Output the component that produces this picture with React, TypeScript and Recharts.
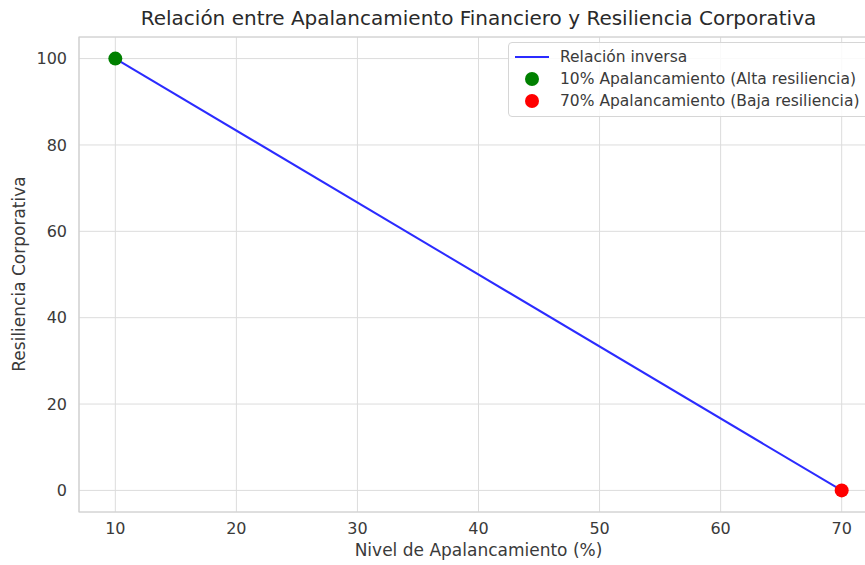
import React from 'react';
import {
  ComposedChart, Line, Scatter, XAxis, YAxis, CartesianGrid, ReferenceArea,
} from 'recharts';

const lineX = [10, 70];
const lineY = [100, 0];
const highPoint = [{ x: 10, y: 100 }];
const lowPoint = [{ x: 70, y: 0 }];
const xTicks = [10, 20, 30, 40, 50, 60, 70];
const yTicks = [0, 20, 40, 60, 80, 100];
const xDomain = [7, 73];
const yDomain = [-5, 105];

const title = 'Relación entre Apalancamiento Financiero y Resiliencia Corporativa';
const xLabel = 'Nivel de Apalancamiento (%)';
const yLabel = 'Resiliencia Corporativa';
const legendItems = [
  { label: 'Relación inversa', type: 'line', color: '#2b2bff' },
  { label: '10% Apalancamiento (Alta resiliencia)', type: 'dot', color: '#008000' },
  { label: '70% Apalancamiento (Baja resiliencia)', type: 'dot', color: '#ff0000' },
];

const lineData = lineX.map((x, i) => ({ x, y: lineY[i] }));

const FONT = '"DejaVu Sans", sans-serif';
const TEXT = '#3a3a3a';

const LegendBox = () => (
  <div
    style={{
      position: 'absolute', left: 508, top: 42,
      background: 'rgba(255,255,255,0.85)',
      border: '1px solid #d6d6d6',
      borderRadius: 4,
      padding: '3px 10px 4px 5px',
      fontFamily: FONT,
      fontSize: 15.5,
      color: TEXT,
      whiteSpace: 'nowrap',
    }}
  >
    {legendItems.map((it) => (
      <div key={it.label} style={{ display: 'flex', alignItems: 'center', height: 22 }}>
        <svg width={36} height={16} style={{ marginRight: 10 }}>
          {it.type === 'line' ? (
            <line x1={1} y1={8} x2={35} y2={8} stroke={it.color} strokeWidth={2} />
          ) : (
            <circle cx={18} cy={8} r={7} fill={it.color} />
          )}
        </svg>
        <span>{it.label}</span>
      </div>
    ))}
  </div>
);

export default function App() {
  return (
    <div
      style={{
        position: 'fixed', left: 0, top: 0, width: 865, height: 565,
        overflow: 'hidden', background: '#fff', fontFamily: FONT,
      }}
    >
      <div style={{ position: 'absolute', left: 0, top: 0 }}>
        <ComposedChart
          width={900}
          height={565}
          margin={{ top: 37, right: 22, bottom: 0, left: 0 }}
        >
          <CartesianGrid stroke="#dcdcdc" strokeWidth={1} />
          <XAxis
            dataKey="x"
            type="number"
            domain={xDomain}
            ticks={xTicks}
            allowDataOverflow
            height={53}
            tickLine={false}
            tickSize={0}
            tickMargin={11}
            axisLine={false}
            tick={{ fill: TEXT, fontSize: 16, fontFamily: FONT }}
          />
          <YAxis
            dataKey="y"
            type="number"
            domain={yDomain}
            ticks={yTicks}
            allowDataOverflow
            width={79}
            tickLine={false}
            tickSize={0}
            tickMargin={12}
            axisLine={false}
            tick={{ fill: TEXT, fontSize: 16, fontFamily: FONT }}
          />
          <ReferenceArea
            x1={xDomain[0]}
            x2={xDomain[1]}
            y1={yDomain[0]}
            y2={yDomain[1]}
            fill="none"
            stroke="#cfcfcf"
            strokeWidth={1.2}
          />
          <Line
            data={lineData}
            dataKey="y"
            stroke="#2b2bff"
            strokeWidth={2}
            dot={false}
            isAnimationActive={false}
          />
          <Scatter data={highPoint} dataKey="y" fill="#008000" shape={(p: any) => <circle cx={p.cx} cy={p.cy} r={7} fill="#008000" />} isAnimationActive={false} />
          <Scatter data={lowPoint} dataKey="y" fill="#ff0000" shape={(p: any) => <circle cx={p.cx} cy={p.cy} r={7} fill="#ff0000" />} isAnimationActive={false} />
        </ComposedChart>
      </div>
      <div
        style={{
          position: 'absolute', left: 79, width: 799, top: 6, textAlign: 'center',
          fontSize: 20, color: '#2a2a2a',
        }}
      >
        {title}
      </div>
      <div
        style={{
          position: 'absolute', left: 79, width: 799, top: 540, textAlign: 'center',
          fontSize: 17, color: TEXT,
        }}
      >
        {xLabel}
      </div>
      <div
        style={{
          position: 'absolute', left: 19, top: 274, transform: 'translate(-50%, -50%) rotate(-90deg)',
          fontSize: 17, color: TEXT, whiteSpace: 'nowrap',
        }}
      >
        {yLabel}
      </div>
      <LegendBox />
    </div>
  );
}
